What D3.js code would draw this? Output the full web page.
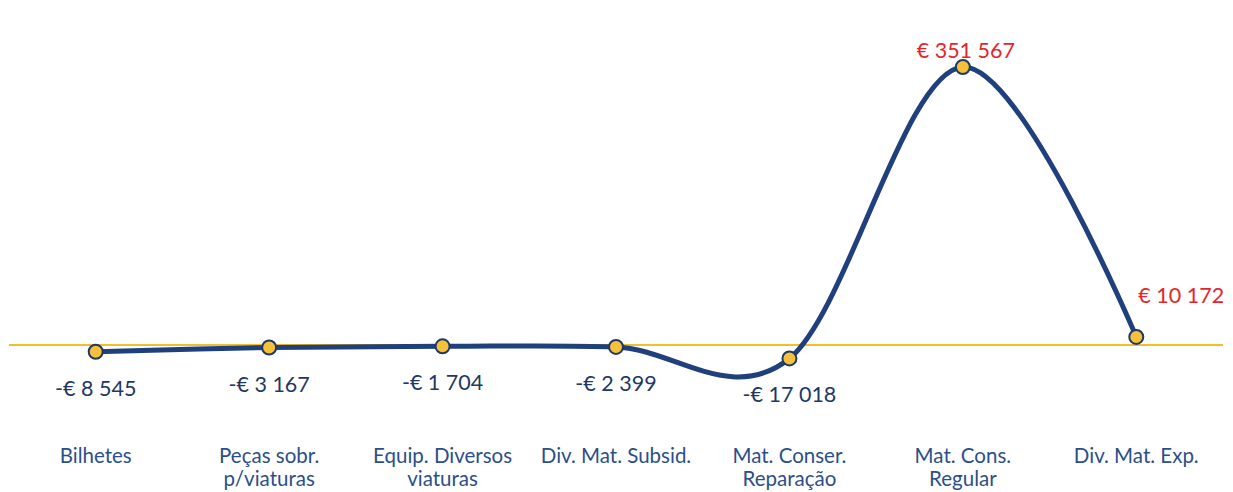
<!DOCTYPE html>
<html>
<head>
<meta charset="utf-8">
<script src="https://cdn.jsdelivr.net/npm/d3@7"></script>
<style>
  body { margin: 0; background: #fff; }
  svg text { font-family: Lato, "Open Sans", sans-serif; }
</style>
</head>
<body>
<svg id="chart"></svg>
<script>
var w = 1233;
var h = 492;

// data
var categories = ["Bilhetes", "Peças sobr.\np/viaturas", "Equip. Diversos\nviaturas", "Div. Mat. Subsid.",
  "Mat. Conser.\nReparação", "Mat. Cons.\nRegular", "Div. Mat. Exp."];
var values = [-8545, -3167, -1704, -2399, -17018, 351567, 10172];
var valueLabels = ["-€ 8 545", "-€ 3 167", "-€ 1 704", "-€ 2 399", "-€ 17 018", "€ 351 567", "€ 10 172"];

var svg = d3.select("#chart")
  .attr("width", w)
  .attr("height", h);

var x = d3.scalePoint()
  .domain(categories)
  .range([9, 1223])
  .padding(0.5);

var y = d3.scaleLinear()
  .domain([0, 351567])
  .range([345, 67]);

var data = categories.map(function (c, i) {
  return { cat: c, value: values[i], label: valueLabels[i] };
});

// zero line
svg.append("line")
  .attr("x1", 9)
  .attr("x2", 1223)
  .attr("y1", y(0))
  .attr("y2", y(0))
  .style("stroke", "#f0bf2c")
  .style("stroke-width", 2.2);

var line = d3.line()
  .x(d => x(d.cat))
  .y(d => y(d.value))
  .curve(d3.curveCardinal.tension(0));

svg.append("path")
  .datum(data)
  .attr("d", line)
  .style("fill", "none")
  .style("stroke", "#1f407c")
  .style("stroke-width", 5)
  .style("stroke-linecap", "round");

svg.selectAll(".dot")
  .data(data)
  .enter().append("circle")
  .attr("class", "dot")
  .attr("cx", d => x(d.cat))
  .attr("cy", d => y(d.value))
  .attr("r", 7)
  .style("fill", "#f5c03c")
  .style("stroke", "#1f3864")
  .style("stroke-width", 2);

// value labels: negatives below, positives above (red)
svg.selectAll(".vlabel")
  .data(data)
  .enter().append("text")
  .attr("class", "vlabel")
  .attr("x", (d, i) => x(d.cat) + (i == 6 ? 45 : (i == 5 ? 3 : 0)))
  .attr("y", (d, i) => d.value < 0 ? y(d.value) + 44 : y(d.value) - (i == 6 ? 34 : 9))
  .attr("text-anchor", "middle")
  .attr("font-size", 21.5)
  .style("fill", d => d.value < 0 ? "#1f3864" : "#e3262b")
  .text(d => d.label);

// category labels
var cat = svg.selectAll(".cat")
  .data(categories)
  .enter().append("text")
  .attr("class", "cat")
  .attr("x", d => x(d))
  .attr("y", 463)
  .attr("text-anchor", "middle")
  .attr("font-size", 20.5)
  .style("fill", "#2c4f8a");

cat.selectAll("tspan")
  .data(d => d.split("\n"))
  .enter().append("tspan")
  .attr("x", function () { return x(d3.select(this.parentNode).datum()); })
  .attr("dy", (d, i) => i == 0 ? 0 : 23)
  .text(d => d);
</script>
</body>
</html>
